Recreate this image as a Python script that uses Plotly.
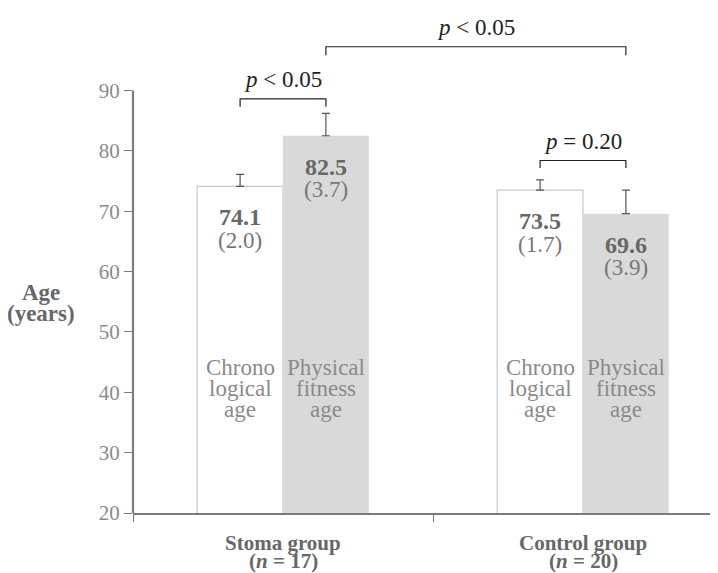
import plotly.graph_objects as go

groups = ["Stoma group", "Control group"]
group_n = ["17", "20"]
chrono_age = [74.1, 73.5]
chrono_sd = [2.0, 1.7]
fitness_age = [82.5, 69.6]
fitness_sd = [3.7, 3.9]
yticks = [20, 30, 40, 50, 60, 70, 80, 90]
bar_names = [["Chrono", "logical", "age"], ["Physical", "fitness", "age"]]
pvals = ["p < 0.05", "p = 0.20", "p < 0.05"]

FONT = "Liberation Serif"
GRAY = "#676767"
LGRAY = "#8a8a8a"
BW = 0.286  # bar width in category units

cats = [0, 1]
fig = go.Figure()
fig.add_trace(go.Bar(
    x=cats, y=chrono_age, width=BW, offset=-BW,
    marker=dict(color="white", line=dict(color="#c8c8c8", width=1.2)),
    error_y=dict(type="data", array=chrono_sd, arrayminus=[0, 0], symmetric=False,
                 color="#555555", thickness=1.2, width=4),
    showlegend=False, hoverinfo="skip"))
fig.add_trace(go.Bar(
    x=cats, y=fitness_age, width=BW, offset=0,
    marker=dict(color="#d9d9d9", line=dict(color="#d9d9d9", width=0)),
    error_y=dict(type="data", array=fitness_sd, arrayminus=[0, 0], symmetric=False,
                 color="#555555", thickness=1.2, width=4),
    showlegend=False, hoverinfo="skip"))

ann = []
shapes = []


def txt(x, y, text, size, color, yshift=0, xref="x", yref="y", bold=False):
    ann.append(dict(x=x, y=y, xref=xref, yref=yref, yanchor="middle", xanchor="center",
                    yshift=yshift, text=(f"<b>{text}</b>" if bold else text),
                    showarrow=False, font=dict(family=FONT, size=size, color=color)))


for i in cats:
    xc = i - BW / 2
    xf = i + BW / 2
    for x, v, s in [(xc, chrono_age[i], chrono_sd[i]), (xf, fitness_age[i], fitness_sd[i])]:
        txt(x, v, f"{v:.1f}", 24, GRAY, yshift=-31, bold=True)
        txt(x, v, f"({s:.1f})", 23, "#777777", yshift=-54)
    for x, lines in [(xc, bar_names[0]), (xf, bar_names[1])]:
        for k, line in enumerate(lines):
            txt(x, 40.7, line, 23, LGRAY, yshift=21 - 21 * k)
    txt(i, 0, groups[i], 21, GRAY, yshift=-30, yref="paper", bold=True)
    txt(i, 0, f"(<i>n</i> = {group_n[i]})", 21, GRAY, yshift=-48, yref="paper", bold=True)


def bracket(x0, x1, y, leg, label):
    shapes.append(dict(type="path", xref="x", yref="y",
                       path=f"M {x0},{y-leg} L {x0},{y} L {x1},{y} L {x1},{y-leg}",
                       line=dict(color="#222222", width=1.2)))
    txt((x0 + x1) / 2, y, f"<i>p</i> {label[2:]}", 23, "#222222", yshift=19)


bracket(0 - BW / 2, 0 + BW / 2, 88.6, 1.3, pvals[0])
bracket(1 - BW / 2, 1 + BW / 2, 78.4, 1.25, pvals[1])
bracket(0 + BW / 2, 1 + BW / 2, 97.25, 1.4, pvals[2])

# y axis line from 20 to 90
shapes.append(dict(type="line", xref="paper", yref="y", x0=0, x1=0, y0=20, y1=90,
                   line=dict(color="#7a7a7a", width=2.2)))

txt(-0.158, 56.6, "Age", 23, GRAY, xref="paper", bold=True)
txt(-0.158, 56.6, "(years)", 23, GRAY, xref="paper", bold=True, yshift=-21)

fig.update_layout(
    width=710, height=565,
    margin=dict(l=125, r=0, t=0, b=60),
    plot_bgcolor="white", paper_bgcolor="white",
    barmode="overlay",
    xaxis=dict(type="linear", range=[-0.5, 1.45], showgrid=False, zeroline=False,
               showline=True, linecolor="#7a7a7a", linewidth=2.2,
               tickvals=[-0.5, 0.5, 1.5], ticktext=["", "", ""], ticks="outside",
               ticklen=7, tickcolor="#7a7a7a", tickwidth=1.2),
    yaxis=dict(range=[20, 103.67], showgrid=False, zeroline=False, showline=False,
               tickvals=yticks, ticks="outside", ticklen=8, tickcolor="#7a7a7a",
               tickwidth=1.2,
               tickfont=dict(family=FONT, size=21, color=LGRAY)),
    annotations=ann, shapes=shapes,
)
fig.write_html("out.html")
